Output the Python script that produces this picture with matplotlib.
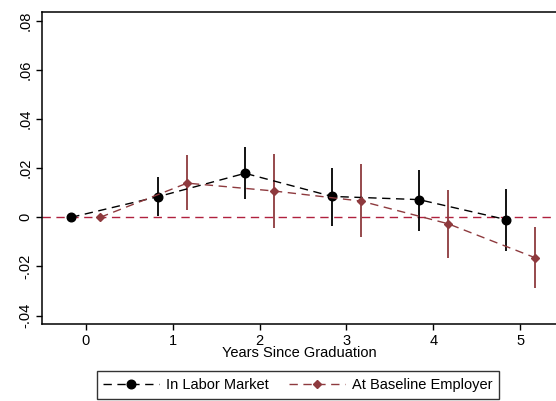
import matplotlib
matplotlib.use("Agg")
import matplotlib.pyplot as plt
import numpy as np

plt.rcParams['font.family'] = ['Liberation Sans', 'DejaVu Sans']

years = [0, 1, 2, 3, 4, 5]
labor_est = [0.0, 0.0084, 0.0179, 0.0085, 0.0072, -0.0009]
labor_lo = [0.0, 0.0005, 0.0073, -0.0034, -0.0054, -0.0137]
labor_hi = [0.0, 0.0166, 0.0285, 0.0202, 0.0194, 0.0115]
base_est = [0.0, 0.0139, 0.0107, 0.0066, -0.0026, -0.0164]
base_lo = [0.0, 0.0031, -0.0043, -0.0082, -0.0164, -0.0289]
base_hi = [0.0, 0.0252, 0.0258, 0.0215, 0.0112, -0.0039]
yticks = [-0.04, -0.02, 0, 0.02, 0.04, 0.06, 0.08]
ytick_labels = ['-.04', '-.02', '0', '.02', '.04', '.06', '.08']
xticks = [0, 1, 2, 3, 4, 5]

red = '#8e3a3e'
zero_red = '#b0213e'

fig = plt.figure(figsize=(5.56, 4.01), dpi=100)
ax = fig.add_axes([0.0755, 0.192, 0.9245, 0.778])

off = 1/6
xb = np.array(years) - off
xr = np.array(years) + off

ax.axhline(0, color=zero_red, lw=1.0, dashes=(6, 4), zorder=1)

# error bars (skip year 0 which has zero width)
ax.vlines(xb[1:], labor_lo[1:], labor_hi[1:], color='black', lw=1.3, zorder=2)
ax.vlines(xr[1:], base_lo[1:], base_hi[1:], color=red, lw=1.3, zorder=2)

ax.plot(xb, labor_est, color='black', lw=1.0, dashes=(6, 4), marker='o',
        markersize=6.2, markerfacecolor='black', markeredgecolor='black', zorder=3,
        label='In Labor Market')
ax.plot(xr, base_est, color=red, lw=1.0, dashes=(6, 4), marker='D',
        markersize=4.0, markerfacecolor=red, markeredgecolor=red, zorder=3,
        label='At Baseline Employer')

ax.set_xlim(-0.503, 5.41)
ax.set_ylim(-0.0434, 0.0835)
ax.set_xticks(xticks)
ax.set_xticklabels([str(x) for x in xticks], fontsize=10.5)
ax.set_yticks(yticks)
ax.set_yticklabels(ytick_labels, fontsize=10.5, rotation=90, va='center')
ax.tick_params(direction='out', length=4, width=1, pad=3)
ax.spines['right'].set_visible(False)
for s in ['left', 'bottom', 'top']:
    ax.spines[s].set_linewidth(1.1)
ax.set_xlabel('Years Since Graduation', fontsize=10.5, labelpad=-1)

leg = ax.legend(loc='upper center', bbox_to_anchor=(0.498, -0.152), ncol=2,
                fontsize=10.5, frameon=True, fancybox=False, edgecolor='black',
                handlelength=3.8, columnspacing=1.4, borderpad=0.45, handletextpad=0.5,
                borderaxespad=0)
leg.get_frame().set_linewidth(1.0)

fig.savefig('out.png', dpi=100, facecolor='white')
